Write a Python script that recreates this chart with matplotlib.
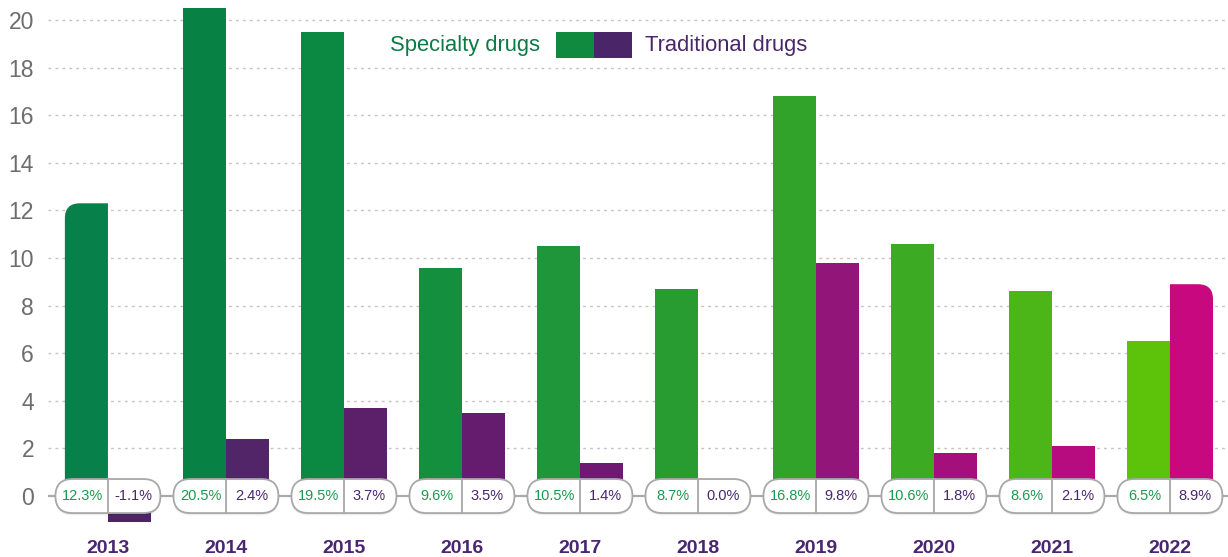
import matplotlib.pyplot as plt
from matplotlib.patches import FancyBboxPatch, Rectangle, PathPatch
from matplotlib.path import Path

# data
years = ['2013', '2014', '2015', '2016', '2017', '2018', '2019', '2020', '2021', '2022']
specialty = [12.3, 20.5, 19.5, 9.6, 10.5, 8.7, 16.8, 10.6, 8.6, 6.5]
traditional = [-1.1, 2.4, 3.7, 3.5, 1.4, 0.0, 9.8, 1.8, 2.1, 8.9]
yticks = [0, 2, 4, 6, 8, 10, 12, 14, 16, 18, 20]

spec_colors = ['#08804a', '#078244', '#0b8842', '#138f3e', '#1f963a',
               '#289b31', '#31a22a', '#3caa22', '#4cb518', '#5cc30a']
trad_colors = ['#4f2467', '#512567', '#5c206b', '#661c6e', '#6e1a72',
               '#7a1874', '#92167a', '#a40f7c', '#b70b80', '#c8087f']
PURPLE_TXT = '#4a2672'

plt.rcParams['font.family'] = ['Liberation Sans', 'DejaVu Sans']

fig = plt.figure(figsize=(12.28, 5.57), dpi=100)
ax = fig.add_axes([48 / 1228, 32.4 / 557, 1180 / 1228, 523.6 / 557])

x = list(range(len(years)))
w = 0.365
ax.set_xlim(-0.508, 9.492)
ax.set_ylim(-1.2, 20.8)

# grid
for t in yticks[1:]:
    ax.axhline(t, color='#c4c4c4', lw=1, ls=(0, (2, 3)), zorder=0)
ax.axhline(0, color='#aaaaaa', lw=1.6, zorder=1)

bs = ax.bar([i - w / 2 for i in x], specialty, w, color=spec_colors, zorder=2)
bt = ax.bar([i + w / 2 for i in x], traditional, w, color=trad_colors, zorder=2)

# rounded outer corners on first and last bar
rx, ry = 0.127, 0.63


def round_corner(bar, corner):
    x0, y0 = bar.get_x(), bar.get_y()
    x1, y1 = x0 + bar.get_width(), y0 + bar.get_height()
    if corner == 'tl':
        verts = [(x0, y0), (x1, y0), (x1, y1), (x0 + rx, y1), (x0, y1), (x0, y1 - ry), (x0, y0)]
        codes = [Path.MOVETO, Path.LINETO, Path.LINETO, Path.LINETO,
                 Path.CURVE3, Path.CURVE3, Path.CLOSEPOLY]
    else:
        verts = [(x0, y0), (x1, y0), (x1, y1 - ry), (x1, y1), (x1 - rx, y1), (x0, y1), (x0, y0)]
        codes = [Path.MOVETO, Path.LINETO, Path.LINETO, Path.CURVE3,
                 Path.CURVE3, Path.LINETO, Path.CLOSEPOLY]
    ax.add_patch(PathPatch(Path(verts, codes), facecolor=bar.get_facecolor(),
                           edgecolor='none', zorder=2))
    bar.set_visible(False)


round_corner(bs[0], 'tl')
round_corner(bt[-1], 'tr')

# pill labels on the zero line
pw, ph = 0.89, 1.43
asp = 118 / 23.8
for i in x:
    for k, a in [(0.10, 0.05), (0.05, 0.08)]:
        sh = FancyBboxPatch((i - pw / 2, -ph / 2 - k), pw, ph,
                            boxstyle='round,pad=0,rounding_size=0.144',
                            mutation_aspect=asp, facecolor='#000000', alpha=a,
                            edgecolor='none', zorder=3)
        ax.add_patch(sh)
    pill = FancyBboxPatch((i - pw / 2, -ph / 2), pw, ph,
                          boxstyle='round,pad=0,rounding_size=0.144',
                          mutation_aspect=asp, facecolor='white',
                          edgecolor='#a8a8a8', lw=1.3, zorder=4)
    ax.add_patch(pill)
    ax.plot([i, i], [-ph / 2, ph / 2], color='#a8a8a8', lw=1.3, zorder=5)
    ax.text(i - 0.215, 0, f'{specialty[i]:.1f}%', color='#1a9a4c', fontsize=10.5,
            ha='center', va='center', zorder=6)
    ax.text(i + 0.215, 0, f'{traditional[i]:.1f}%', color=PURPLE_TXT, fontsize=10.5,
            ha='center', va='center', zorder=6)

ax.set_xticks(x)
ax.set_xticklabels(years, fontsize=14, fontweight='bold', color=PURPLE_TXT)
ax.set_yticks(yticks)
ax.set_yticklabels([str(t) for t in yticks], fontsize=16.5, color='#6d6d6d')
ax.tick_params(axis='x', length=0, pad=11)
ax.tick_params(axis='y', length=0, pad=10)
for s in ax.spines.values():
    s.set_visible(False)

# legend
fig.text(540 / 1228, 1 - 45 / 557, 'Specialty drugs', color='#0b7a45', fontsize=15.8,
         ha='right', va='center')
fig.patches.append(Rectangle((556 / 1228, 1 - 58 / 557), 38 / 1228, 26 / 557,
                             transform=fig.transFigure, facecolor='#0f8a3e', edgecolor='none'))
fig.patches.append(Rectangle((594 / 1228, 1 - 58 / 557), 38 / 1228, 26 / 557,
                             transform=fig.transFigure, facecolor='#4a2669', edgecolor='none'))
fig.text(645 / 1228, 1 - 45 / 557, 'Traditional drugs', color='#4a2669', fontsize=15.8,
         ha='left', va='center')

fig.savefig('out.png', dpi=100)
